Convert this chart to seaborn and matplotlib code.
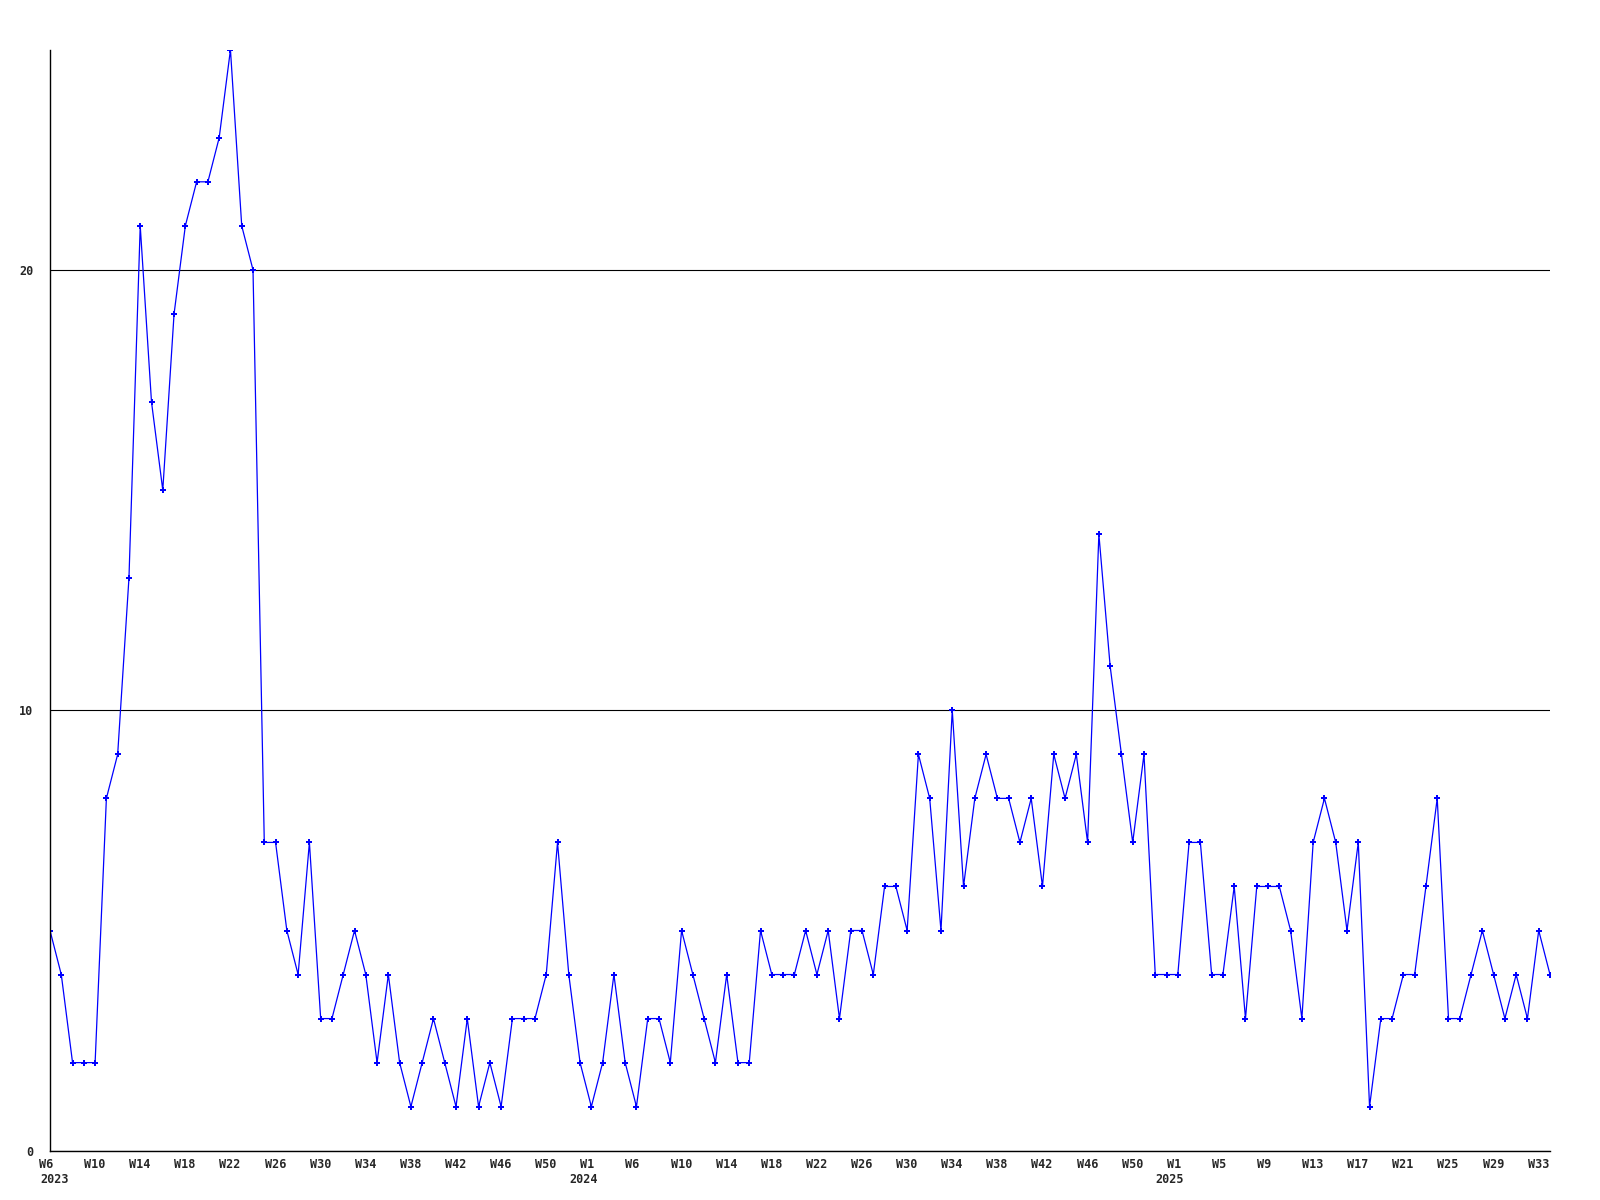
import matplotlib
matplotlib.use("Agg")
import matplotlib.pyplot as plt
import matplotlib.transforms as mtransforms
import seaborn as sns

# weekly counts, 2023 W6 .. 2025 W34
counts = [5, 4, 2, 2, 2, 8, 9, 13, 21, 17,
          15, 19, 21, 22, 22, 23, 25, 21, 20, 7,
          7, 5, 4, 7, 3, 3, 4, 5, 4, 2,
          4, 2, 1, 2, 3, 2, 1, 3, 1, 2,
          1, 3, 3, 3, 4, 7, 4, 2, 1, 2,
          4, 2, 1, 3, 3, 2, 5, 4, 3, 2,
          4, 2, 2, 5, 4, 4, 4, 5, 4, 5,
          3, 5, 5, 4, 6, 6, 5, 9, 8, 5,
          10, 6, 8, 9, 8, 8, 7, 8, 6, 9,
          8, 9, 7, 14, 11, 9, 7, 9, 4, 4,
          4, 7, 7, 4, 4, 6, 3, 6, 6, 6,
          5, 3, 7, 8, 7, 5, 7, 1, 3, 3,
          4, 4, 6, 8, 3, 3, 4, 5, 4, 3,
          4, 3, 5, 4]

week_labels = ["W6", "W10", "W14", "W18", "W22", "W26", "W30", "W34", "W38", "W42", "W46", "W50",
               "W1", "W6", "W10", "W14", "W18", "W22", "W26", "W30", "W34", "W38", "W42", "W46", "W50",
               "W1", "W5", "W9", "W13", "W17", "W21", "W25", "W29", "W33"]
years = ["2023", "2024", "2025"]
y_ticks = [0, 10, 20]

sns.set_style("white")
plt.rcParams["font.family"] = ["DejaVu Sans Mono"]
plt.rcParams["font.weight"] = "bold"

weeks = list(range(len(counts)))

fig = plt.figure(figsize=(16, 12), dpi=100)
ax = fig.add_axes([50 / 1600, 49.3 / 1200, 1500 / 1600, 1101 / 1200])

sns.lineplot(x=weeks, y=counts, ax=ax, color="#0000ff", linewidth=0.9,
             marker="P", markersize=4.5, markeredgewidth=0)

ax.set_xlim(0, len(counts) - 1)
ax.set_ylim(0, 25)
ax.set_yticks(y_ticks)
ax.set_yticklabels([str(v) for v in y_ticks], fontsize=8.5, fontweight="bold")
ax.yaxis.grid(True, color="black", linewidth=0.8)
ax.set_axisbelow(True)

tick_pos = weeks[::4]
ax.set_xticks(tick_pos)
ax.set_xticklabels([])
ax.tick_params(axis="x", length=0)
ax.tick_params(axis="y", length=0, pad=12)

# week labels, left edge a little before each tick
trans = ax.get_xaxis_transform()
wk_off = mtransforms.ScaledTranslation(-11 / 100, -7 / 100, fig.dpi_scale_trans)
for p, lab in zip(tick_pos, week_labels):
    ax.text(p, 0, lab, transform=trans + wk_off, ha="left", va="top",
            fontsize=8.5, fontweight="bold")

# year under the first tick and under each W1
year_ticks = [tick_pos[0]] + [p for p, l in zip(tick_pos, week_labels) if l == "W1"]
for i, (p, yr) in enumerate(zip(year_ticks, years)):
    dx = -10 if i == 0 else -22
    off = mtransforms.ScaledTranslation(dx / 100, -22 / 100, fig.dpi_scale_trans)
    ax.text(p, 0, yr, transform=trans + off, ha="left", va="top",
            fontsize=8.5, fontweight="bold")

for side in ["top", "right"]:
    ax.spines[side].set_visible(False)
for side in ["left", "bottom"]:
    ax.spines[side].set_color("black")
    ax.spines[side].set_linewidth(1.0)

ax.set_xlabel("")
ax.set_ylabel("")

fig.savefig("out.png", dpi=100)
